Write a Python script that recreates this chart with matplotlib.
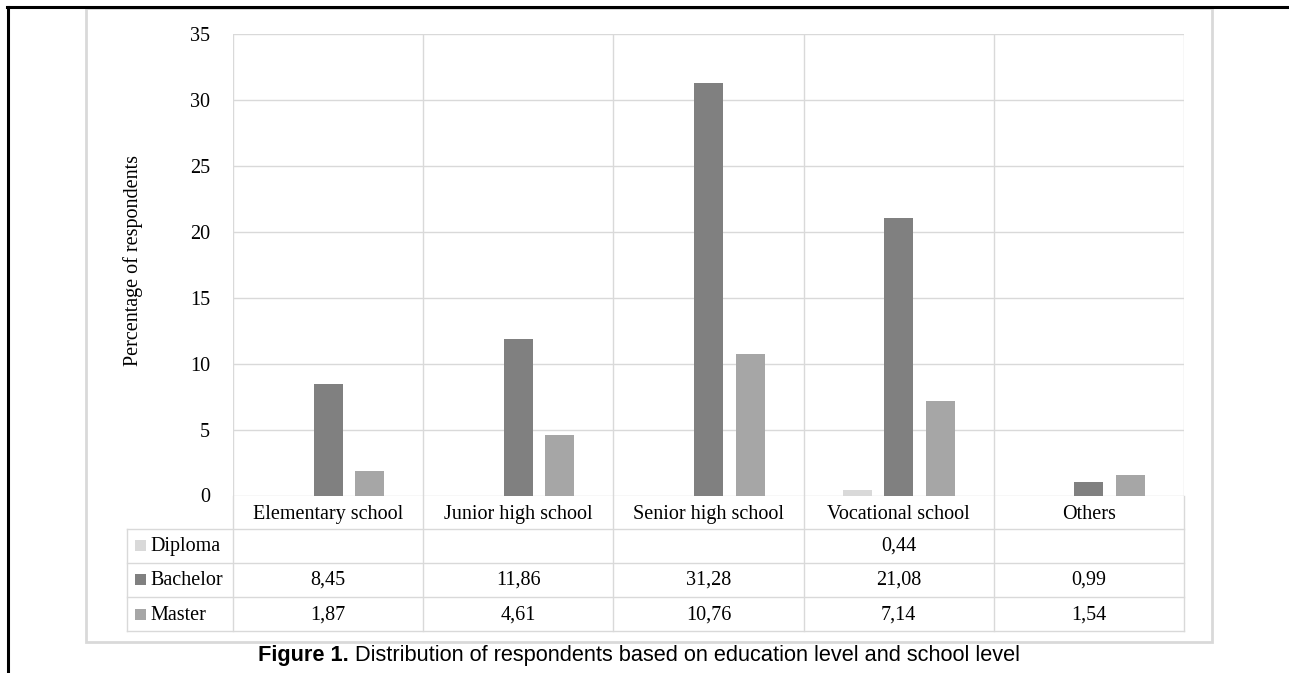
import matplotlib
matplotlib.use("Agg")
import matplotlib.pyplot as plt
from matplotlib.lines import Line2D
from matplotlib.patches import Rectangle

categories = ["Elementary school", "Junior high school", "Senior high school",
              "Vocational school", "Others"]
series_names = ["Diploma", "Bachelor", "Master"]
diploma = [None, None, None, 0.44, None]
bachelor = [8.45, 11.86, 31.28, 21.08, 0.99]
master = [1.87, 4.61, 10.76, 7.14, 1.54]
y_ticks = [0, 5, 10, 15, 20, 25, 30, 35]

colors = ["#d9d9d9", "#808080", "#a6a6a6"]
grid_c = "#d9d9d9"
SERIF = ["Liberation Serif", "DejaVu Serif"]
SANS = ["Liberation Sans", "DejaVu Sans"]
FS = 14.5

W, H = 1289, 673
fig = plt.figure(figsize=(W / 100, H / 100), dpi=100)


def fx(x):
    return x / W


def fy(y):
    return 1 - y / H


def hline(x0, x1, y, color=grid_c, lw=1.0):
    fig.add_artist(Line2D([fx(x0), fx(x1)], [fy(y), fy(y)], color=color, lw=lw,
                          transform=fig.transFigure))


def vline(x, y0, y1, color=grid_c, lw=1.0):
    fig.add_artist(Line2D([fx(x), fx(x)], [fy(y0), fy(y1)], color=color, lw=lw,
                          transform=fig.transFigure))


# outer frame lines
hline(7, W, 6.5, color="black", lw=2.2)
vline(8, 6.5, H, color="black", lw=2.2)
# chart area border
fig.add_artist(Rectangle((fx(86), fy(642)), fx(1212) - fx(86), fy(8) - fy(642),
                         transform=fig.transFigure, fill=False,
                         edgecolor="#d9d9d9", lw=2.0))

# plot area
L, R, T, B = 233, 1184, 34, 495.5
ax = fig.add_axes([fx(L), fy(B), fx(R) - fx(L), fy(T) - fy(B)])
ax.set_xlim(-0.5, len(categories) - 0.5)
ax.set_ylim(0, 35)
for s in ax.spines.values():
    s.set_visible(False)
ax.set_xticks([])
ax.set_yticks(y_ticks)
ax.set_yticklabels([str(t) for t in y_ticks], fontsize=FS, family=SERIF)
ax.tick_params(axis="y", length=0, pad=16.5)
for t in y_ticks:
    ax.axhline(t, color=grid_c, lw=1.0, zorder=0)
for i in range(len(categories) + 1):
    ax.axvline(i - 0.5, color=grid_c, lw=1.0, zorder=0)
fig.text(fx(133), fy(260), "Percentage of respondents", rotation=90,
         ha="center", va="center", fontsize=FS, family=SERIF)

bw = 0.1525
offs = [-0.219, 0.0, 0.219]
for k, vals in enumerate([diploma, bachelor, master]):
    xs = [i + offs[k] for i, v in enumerate(vals) if v is not None]
    hs = [v for v in vals if v is not None]
    ax.bar(xs, hs, width=bw, color=colors[k], zorder=2)

# data table under the axis
col_w = (R - L) / len(categories)
row_lines = [528.5, 562.5, 596.5, 631]
tab_left = 127
for i in range(len(categories) + 1):
    vline(L + i * col_w, B, 631)
vline(tab_left, 528.5, 631)
for y in row_lines:
    hline(tab_left, R, y)

for i, c in enumerate(categories):
    fig.text(fx(L + (i + 0.5) * col_w), fy(519), c, ha="center", va="baseline",
             fontsize=FS, family=SERIF)


def fmt(v):
    return f"{v:.2f}".replace(".", ",")


row_baselines = [551, 585, 619.5]
for r, (name, vals) in enumerate(zip(series_names, [diploma, bachelor, master])):
    yb = row_baselines[r]
    fig.add_artist(Rectangle((fx(135), fy(yb)), fx(11), 11 / H,
                             transform=fig.transFigure, color=colors[r], lw=0))
    fig.text(fx(150), fy(yb), name, ha="left", va="baseline", fontsize=FS,
             family=SERIF)
    for i, v in enumerate(vals):
        if v is not None:
            fig.text(fx(L + (i + 0.5) * col_w), fy(yb), fmt(v), ha="center",
                     va="baseline", fontsize=FS, family=SERIF)

# caption
cap_y = fy(656)
t1 = fig.text(fx(258), cap_y, "Figure 1.", ha="left", va="center",
              fontsize=15.7, fontweight="bold", family=SANS)
fig.canvas.draw()
bb = t1.get_window_extent()
fig.text(bb.x1 / W + fx(6), cap_y,
         "Distribution of respondents based on education level and school level",
         ha="left", va="center", fontsize=15.7, family=SANS)

fig.savefig("out.png", dpi=100)
